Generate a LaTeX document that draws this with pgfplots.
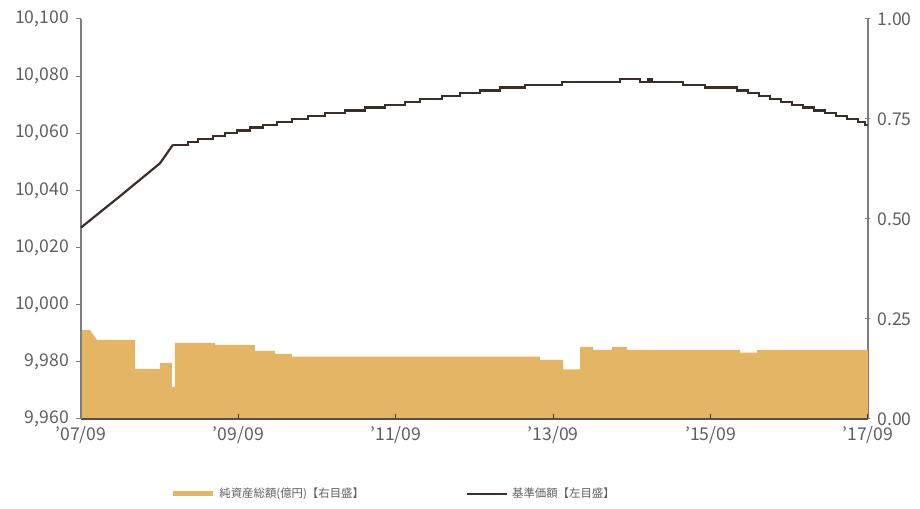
\documentclass[border=0pt]{standalone}
\usepackage{fontspec}
\setmainfont{Noto Sans CJK JP}
\usepackage{pgfplots}
\pgfplotsset{compat=1.18}
\definecolor{navbar}{RGB}{227,181,101}
\definecolor{navline}{RGB}{58,46,42}
\definecolor{axisgray}{RGB}{125,125,125}
\definecolor{labelgray}{RGB}{95,95,95}

\pgfplotsset{
  base/.style={
    scale only axis, width=393.5pt, height=200pt,
    xmin=2007.75, xmax=2017.75,
    scaled y ticks=false, scaled x ticks=false,
    tick label style={font=\fontsize{8.8}{10}\selectfont, text=labelgray},
    /pgf/number format/assume math mode=true,
    major tick length=2.5pt,
  }
}

\begin{document}
\begin{tikzpicture}
% right axis: net assets (bars)
\begin{axis}[base,
    axis y line*=right, axis x line=none,
    ymin=0, ymax=1,
    ytick={0,0.25,0.5,0.75,1},
    yticklabels={0.00,0.25,0.50,0.75,1.00},
    y axis line style={axisgray, line width=0.6pt},
    ytick style={axisgray, line width=0.5pt},
    tick align=center,
]
\addplot[fill=navbar, draw=none] coordinates {
  (2007.750,0.2225) (2007.864,0.2225) (2007.953,0.1975) (2008.436,0.1975)
  (2008.436,0.125) (2008.754,0.125) (2008.754,0.14) (2008.906,0.14)
  (2008.906,0.08) (2008.944,0.08) (2008.944,0.19) (2009.453,0.19)
  (2009.453,0.185) (2009.961,0.185) (2009.961,0.17) (2010.215,0.17)
  (2010.215,0.1625) (2010.431,0.1625) (2010.431,0.156) (2013.582,0.156)
  (2013.582,0.1475) (2013.875,0.1475) (2013.875,0.124) (2014.091,0.124)
  (2014.091,0.18) (2014.256,0.18) (2014.256,0.1725) (2014.497,0.1725)
  (2014.497,0.18) (2014.688,0.18) (2014.688,0.1725) (2016.124,0.1725)
  (2016.124,0.166) (2016.340,0.166) (2016.340,0.1725) (2017.750,0.1725)
} \closedcycle;
\end{axis}

% left axis: NAV (line)
\begin{axis}[base,
    axis x line*=bottom, axis y line*=left,
    ymin=9960, ymax=10100,
    ytick={9960,9980,10000,10020,10040,10060,10080,10100},
    yticklabels={{9,960},{9,980},{10,000},{10,020},{10,040},{10,060},{10,080},{10,100}},
    xtick={2007.75,2009.75,2011.75,2013.75,2015.75,2017.75},
    xticklabels={’07/09,’09/09,’11/09,’13/09,’15/09,’17/09},
    y axis line style={axisgray, line width=0.6pt},
    x axis line style={navline!85, line width=0.8pt},
    ytick style={axisgray, line width=0.5pt},
    xtick style={navline, line width=0.5pt},
    xtick align=inside, ytick align=outside,
    clip=false,
    legend style={at={(rel axis cs:0.3985,-0.1875)}, anchor=center,
      legend columns=2, draw=none, fill=none,
      font=\fontsize{5.7}{7}\selectfont, text=labelgray,
      /tikz/every even column/.append style={column sep=49pt}},
    legend image code/.code={\draw[#1] (0pt,0pt) -- (20pt,0pt);},
]
\addlegendimage{navbar, line width=2.5pt}
\addlegendentry{純資産総額(億円)【右目盛】}
\addplot[navline, line width=1.1pt, forget plot] coordinates {
  (2007.750,10027) (2008.246,10038) (2008.754,10049.5) (2008.919,10056)
};
\addplot[navline, line width=1.1pt, const plot] coordinates {
  (2008.919,10056) (2009.110,10057) (2009.237,10058) (2009.427,10059)
  (2009.580,10060) (2009.732,10061) (2009.897,10062) (2010.063,10063)
  (2010.240,10064) (2010.431,10065) (2010.634,10066) (2010.850,10067)
  (2011.105,10068) (2011.359,10069) (2011.613,10070) (2011.867,10071)
  (2012.058,10072) (2012.337,10073) (2012.566,10074) (2012.820,10075)
  (2013.074,10076) (2013.392,10077) (2013.862,10078) (2014.599,10079)
  (2014.850,10078) (2014.960,10079) (2015.000,10078) (2015.399,10077)
  (2015.679,10076) (2016.086,10075) (2016.225,10074) (2016.365,10073)
  (2016.505,10072) (2016.645,10071) (2016.784,10070) (2016.924,10069)
  (2017.064,10068) (2017.204,10067) (2017.343,10066) (2017.483,10065)
  (2017.623,10064) (2017.712,10063) (2017.750,10063)
};
\addlegendentry{基準価額【左目盛】}
\path (rel axis cs:-0.1029,-0.2175) rectangle (rel axis cs:1.0661,1.0475);
\end{axis}
\end{tikzpicture}
\end{document}
